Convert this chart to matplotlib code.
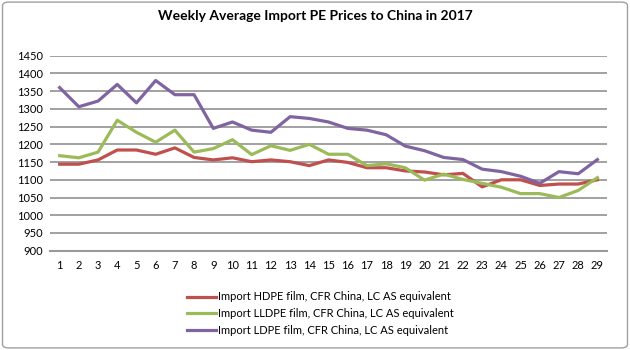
import matplotlib
matplotlib.use('Agg')
import matplotlib.pyplot as plt
from matplotlib.patches import FancyBboxPatch

plt.rcParams['font.family'] = ['Lato', 'DejaVu Sans']

weeks = list(range(1, 30))
hdpe = [1144, 1144, 1156, 1184, 1184, 1172, 1190, 1163, 1156, 1162,
        1151, 1156, 1151, 1140, 1156, 1149, 1134, 1134, 1125, 1122,
        1114, 1118, 1080, 1100, 1100, 1084, 1088, 1088, 1100]
lldpe = [1168, 1162, 1178, 1268, 1234, 1206, 1240, 1178, 1188, 1213,
         1171, 1196, 1183, 1200, 1172, 1172, 1140, 1145, 1134, 1099,
         1116, 1101, 1090, 1079, 1061, 1061, 1050, 1070, 1106]
ldpe = [1360, 1306, 1322, 1369, 1317, 1380, 1340, 1340, 1245, 1263,
        1240, 1234, 1278, 1273, 1263, 1245, 1240, 1227, 1195, 1182,
        1163, 1157, 1130, 1123, 1110, 1090, 1123, 1117, 1157]
labels = ['Import HDPE film, CFR China, LC AS equivalent',
          'Import LLDPE film, CFR China, LC AS equivalent',
          'Import LDPE film, CFR China, LC AS equivalent']
colors = ['#C0504D', '#9BBB59', '#8064A2']

fig = plt.figure(figsize=(6.3, 3.5), dpi=100)
ax = fig.add_axes([0.0794, 0.2837, 0.8841, 0.5572])

for vals, lab, c in zip([hdpe, lldpe, ldpe], labels, colors):
    ax.plot(weeks, vals, color=c, linewidth=2.3, label=lab)

ax.set_xlim(0.5, 29.5)
ax.set_ylim(900, 1450)
ax.set_yticks(range(900, 1451, 50))
ax.set_xticks(weeks)
ax.yaxis.grid(True, color='#888888', linewidth=1.1)
ax.set_axisbelow(True)
for s in ['top', 'right', 'left']:
    ax.spines[s].set_visible(False)
ax.spines['bottom'].set_color('#999999')
ax.spines['bottom'].set_linewidth(1.5)
ax.tick_params(length=0, labelsize=8, colors='#000000')
ax.tick_params(axis='x', pad=7)
ax.tick_params(axis='y', pad=5)

fig.text(0.5, 0.955, 'Weekly Average Import PE Prices to China in 2017',
         ha='center', va='center', fontsize=10, fontweight='bold')

fig.legend(loc='upper left', bbox_to_anchor=(0.29, 0.18), frameon=False,
           fontsize=8, handlelength=2.6, handletextpad=0.2,
           labelspacing=0.5, borderaxespad=0)

fig.patches.append(FancyBboxPatch((0.004, 0.006), 0.992, 0.988,
                                  boxstyle='round,pad=0,rounding_size=0.01',
                                  transform=fig.transFigure, fill=False,
                                  edgecolor='#A0A0A0', linewidth=1))

plt.savefig('out.png', dpi=100)
plt.close()
